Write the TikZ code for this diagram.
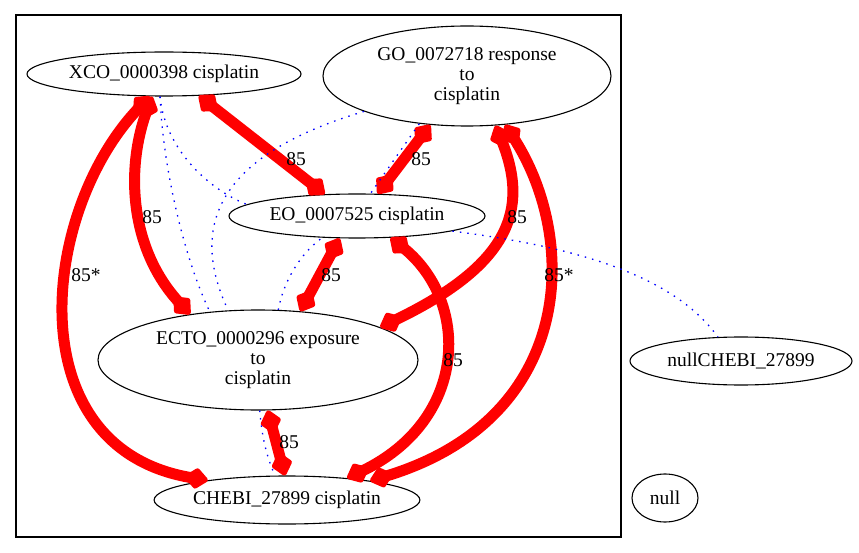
\documentclass[tikz,border=0pt]{standalone}
\usepackage{fontspec}
\setmainfont{Liberation Serif}
\usetikzlibrary{shapes.geometric,arrows.meta}

\begin{document}
\begin{tikzpicture}[x=1pt,y=1pt]
\tikzset{term/.style={draw,ellipse,line width=1.1pt,inner sep=0pt,align=center,font=\fontsize{19.5}{20}\selectfont},
rel/.style={red,line width=11pt,{Diamond[length=26pt,width=22pt,line width=5pt,round]}-{Diamond[length=26pt,width=22pt,line width=5pt,round]}},
sim/.style={blue,line width=1.3pt,dash pattern=on 1.5pt off 6pt},
wt/.style={inner sep=0pt,font=\fontsize{19.5}{20}\selectfont}}
\useasboundingbox (0,0) rectangle (859,-553);
\draw[line width=1.1pt] (16,-15) rectangle (621,-537);
\node[term,minimum width=274pt,minimum height=44pt] (xco) at (164,-74) {XCO\_0000398 cisplatin};
\node[term,minimum width=288pt,minimum height=100pt] (go) at (467,-76) {GO\_0072718 response\\to\\cisplatin};
\node[term,minimum width=256pt,minimum height=44pt] (eo) at (357,-216) {EO\_0007525 cisplatin};
\node[term,minimum width=320pt,minimum height=100pt] (ecto) at (258,-360) {ECTO\_0000296 exposure\\to\\cisplatin};
\node[term,minimum width=264pt,minimum height=48pt] (chebi) at (287,-500) {CHEBI\_27899 cisplatin};
\node[term,minimum width=222pt,minimum height=48pt] (nullchebi) at (741,-361) {nullCHEBI\_27899};
\node[term,minimum width=66pt,minimum height=48pt] (nul) at (665,-498) {null};
% red links
\draw[rel] (xco.-122) .. controls (40,-210) and (15,-450) .. (chebi.166);
\draw[rel] (xco.-118) .. controls (125,-170) and (130,-250) .. (ecto.146);
\draw[rel] (xco.-32) -- (eo.146);
\draw[rel] (go.-127) -- (eo.47);
\draw[rel] (go.-60) .. controls (530,-210) and (510,-265) .. (ecto.15);
\draw[rel] (go.-52) .. controls (580,-240) and (575,-420) .. (chebi.13);
\draw[rel] (eo.-128) -- (ecto.49);
\draw[rel] (eo.-33) .. controls (470,-300) and (470,-420) .. (chebi.20);
\draw[rel] (ecto.-79) -- (chebi.95);
% blue links
\draw[sim] (xco.-100) .. controls (163,-170) and (185,-260) .. (ecto.135);
\draw[sim] (xco.-100) .. controls (165,-150) and (210,-190) .. (eo.174);
\draw[sim] (go.-161) .. controls (200,-160) and (195,-240) .. (ecto.121);
\draw[sim] (go.-135) -- (eo.59);
\draw[sim] (ecto.68) .. controls (285,-275) and (305,-250) .. (eo.-148);
\draw[sim] (ecto.-88) .. controls (262,-440) and (268,-460) .. (chebi.116);
\draw[sim] (eo.-9) .. controls (560,-245) and (670,-270) .. (nullchebi.134);
% weights
\node[wt] (w1) at (86,-275) {85*};
\node[wt] (w2) at (152,-217) {85};
\node[wt] (w3) at (296,-159) {85};
\node[wt] (w4) at (421,-159) {85};
\node[wt] (w5) at (517,-217) {85};
\node[wt] (w6) at (559,-275) {85*};
\node[wt] (w7) at (331,-275) {85};
\node[wt] (w8) at (453,-360) {85};
\node[wt] (w9) at (289,-442) {85};
\end{tikzpicture}
\end{document}
